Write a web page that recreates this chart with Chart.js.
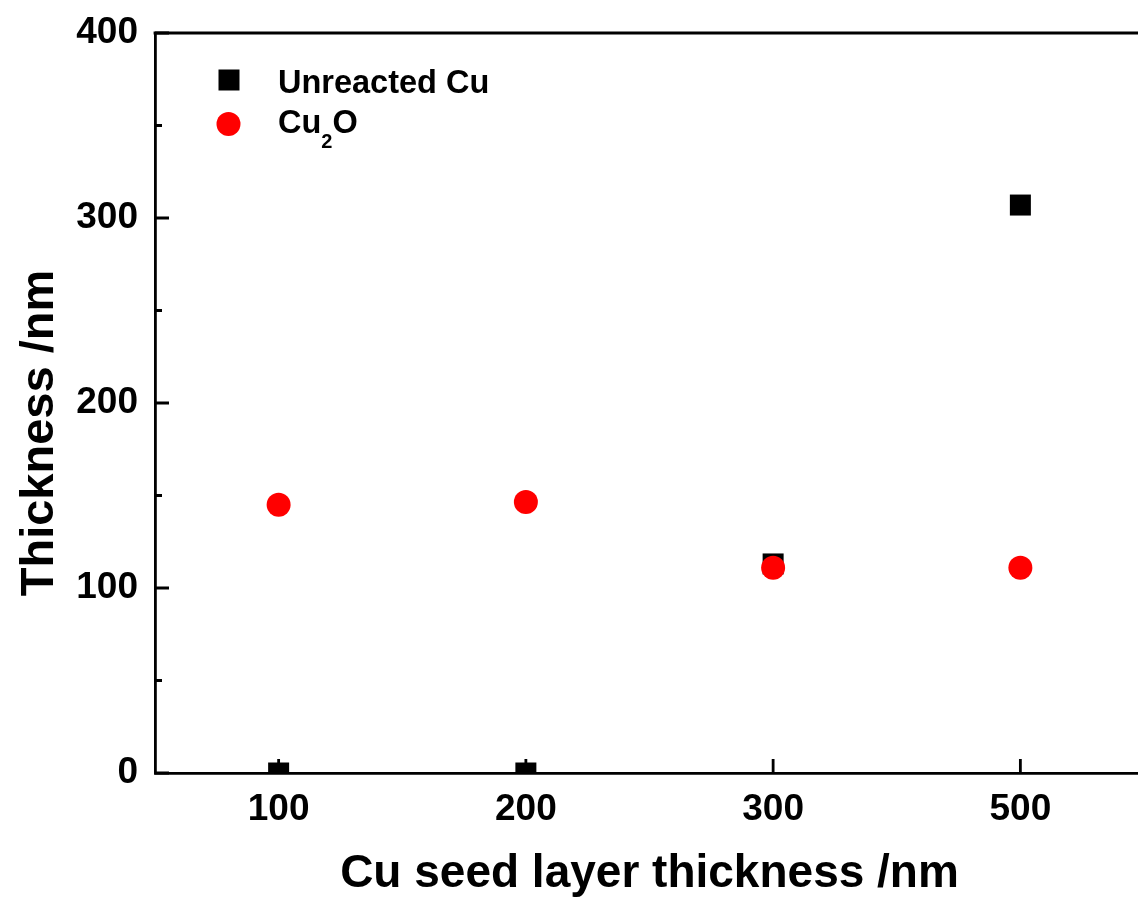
<!DOCTYPE html>
<html>
<head>
<meta charset="utf-8">
<script src="https://cdn.jsdelivr.net/npm/chart.js@4.4.1/dist/chart.umd.min.js"></script>
<style>
  html, body { margin: 0; padding: 0; background: #fff; overflow: hidden; width: 1138px; height: 897px; }
  canvas { display: block; }
</style>
</head>
<body>
<canvas id="chart" width="1160" height="897"></canvas>
<script>
// Cu seed layer thickness (nm) on the x axis
const seedThickness = ['100', '200', '300', '500'];
// Measured layer thicknesses (nm)
const unreactedCu = [0, 0, 113, 307];
const cu2oLayer = [145, 146.5, 111, 111];
// Y axis range and tick spacing
const yMin = 0, yMax = 400, yStep = 100;

const FONT = '"Liberation Sans", Arial, Helvetica, sans-serif';
const AXIS_W = 2.8;

// Inward-facing ticks, minor ticks, top frame line, y title and legend
const decorations = {
  id: 'decorations',
  afterDraw(chart) {
    const { ctx, chartArea: a, scales: { x, y } } = chart;
    ctx.save();
    ctx.strokeStyle = '#000';
    ctx.lineWidth = AXIS_W;
    ctx.lineCap = 'butt';
    // top frame line and right frame line
    ctx.beginPath();
    ctx.moveTo(a.left - AXIS_W / 2, a.top);
    ctx.lineTo(a.right, a.top);
    ctx.lineTo(a.right, a.bottom);
    ctx.stroke();
    // y major ticks
    ctx.beginPath();
    y.ticks.forEach(t => {
      const py = y.getPixelForValue(t.value);
      ctx.moveTo(a.left, py); ctx.lineTo(a.left + 14, py);
    });
    // y minor ticks
    for (let v = yMin + yStep / 2; v < yMax; v += yStep) {
      const py = y.getPixelForValue(v);
      ctx.moveTo(a.left, py); ctx.lineTo(a.left + 7, py);
    }
    // x ticks at each category
    seedThickness.forEach((_, i) => {
      const px = x.getPixelForValue(i);
      ctx.moveTo(px, a.bottom); ctx.lineTo(px, a.bottom - 14);
    });
    ctx.stroke();

    // y axis title
    ctx.fillStyle = '#000';
    ctx.font = 'bold 47px ' + FONT;
    ctx.textAlign = 'center';
    ctx.textBaseline = 'alphabetic';
    ctx.translate(53, 433);
    ctx.rotate(-Math.PI / 2);
    ctx.fillText('Thickness /nm', 0, 0);
    ctx.restore();

    // legend
    ctx.save();
    const ds = chart.data.datasets;
    ctx.fillStyle = ds[0].backgroundColor;
    ctx.fillRect(218.5, 69.5, 21, 21);
    ctx.fillStyle = ds[1].backgroundColor;
    ctx.beginPath();
    ctx.arc(228.5, 124, 12, 0, Math.PI * 2);
    ctx.fill();
    ctx.fillStyle = '#000';
    ctx.textAlign = 'left';
    ctx.textBaseline = 'alphabetic';
    ctx.font = 'bold 32.5px ' + FONT;
    ctx.fillText(ds[0].label, 278, 93);
    // Cu2O with subscript
    let tx = 278;
    ctx.fillText('Cu', tx, 133);
    tx += ctx.measureText('Cu').width;
    ctx.font = 'bold 20px ' + FONT;
    ctx.fillText('2', tx, 148);
    tx += ctx.measureText('2').width;
    ctx.font = 'bold 32.5px ' + FONT;
    ctx.fillText('O', tx, 133);
    ctx.restore();
  }
};

new Chart(document.getElementById('chart'), {
  type: 'line',
  data: {
    labels: seedThickness,
    datasets: [
      {
        label: 'Unreacted Cu',
        data: unreactedCu,
        showLine: false,
        pointStyle: 'rect',
        pointRadius: 14.85,
        pointHoverRadius: 14.85,
        pointBorderWidth: 0,
        backgroundColor: '#000000',
        borderColor: '#000000',
        clip: 0,
        order: 2
      },
      {
        label: 'Cu2O',
        data: cu2oLayer,
        showLine: false,
        pointStyle: 'circle',
        pointRadius: 12,
        pointHoverRadius: 12,
        pointBorderWidth: 0,
        backgroundColor: '#ff0000',
        borderColor: '#ff0000',
        clip: 0,
        order: 1
      }
    ]
  },
  options: {
    responsive: false,
    animation: false,
    events: [],
    layout: { padding: { top: 33, right: 16, bottom: 0, left: 0 } },
    plugins: { legend: { display: false }, tooltip: { enabled: false }, title: { display: false } },
    scales: {
      x: {
        type: 'category',
        offset: true,
        grid: { display: false, drawTicks: false, tickLength: 0 },
        border: { display: true, color: '#000', width: AXIS_W },
        ticks: { color: '#000', padding: 15, font: { family: FONT, size: 37, weight: 'bold' } },
        title: {
          display: true,
          text: 'Cu seed layer thickness /nm',
          color: '#000',
          font: { family: FONT, size: 46, weight: 'bold', lineHeight: 1 },
          padding: { top: 0, bottom: 0 }
        },
        afterFit(scale) { scale.height = 124; scale.paddingLeft = 0; scale.paddingRight = 0; }
      },
      y: {
        min: yMin,
        max: yMax,
        grid: { display: false, drawTicks: false, tickLength: 0 },
        border: { display: true, color: '#000', width: AXIS_W },
        ticks: { stepSize: yStep, color: '#000', padding: 17, font: { family: FONT, size: 37, weight: 'bold' } },
        afterFit(scale) { scale.width = 155; scale.paddingTop = 0; scale.paddingBottom = 0; }
      }
    }
  },
  plugins: [decorations]
});
</script>
</body>
</html>
